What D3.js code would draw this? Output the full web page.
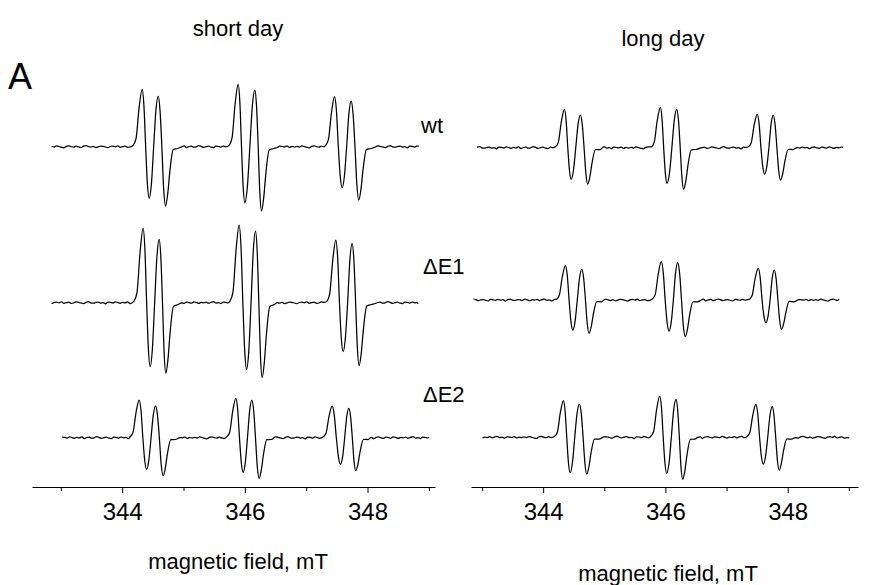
<!DOCTYPE html>
<html>
<head>
<meta charset="utf-8">
<script src="https://cdn.jsdelivr.net/npm/d3@7"></script>
<style>
  body { margin: 0; background: #fff; }
  svg text { font-family: "Liberation Sans", Arial, sans-serif; fill: #000; }
</style>
</head>
<body>
<div id="chart"></div>
<script>
// Panels and samples
const panelTitles = ["short day", "long day"];
const sampleNames = ["wt", "ΔE1", "ΔE2"];
const majorTicks = [344, 346, 348];
const minorTicks = [343, 345, 347, 349];

// Extrema of each spectrum, field in mT: [up, down, up, down] for the three line groups
const shortWtFields  = [344.326, 344.440, 344.587, 344.707, 345.891, 346.000, 346.163, 346.272, 347.462, 347.586, 347.733, 347.858];
const shortWtAmps    = [57.4, -51.6, 50.7, -59.3, 62.4, -56.0, 56.7, -64.3, 50.0, -41.0, 45.7, -53.3];
const shortE1Fields  = [344.342, 344.456, 344.603, 344.712, 345.907, 346.028, 346.174, 346.282, 347.483, 347.602, 347.749, 347.863];
const shortE1Amps    = [74.4, -64.0, 63.4, -70.6, 77.7, -66.6, 71.7, -75.0, 62.7, -49.0, 59.4, -63.0];
const shortE2Fields  = [344.277, 344.398, 344.544, 344.668, 345.853, 345.972, 346.114, 346.233, 347.423, 347.560, 347.695, 347.809];
const shortE2Amps    = [37.7, -31.6, 31.7, -38.0, 39.4, -34.6, 37.7, -40.6, 31.7, -26.6, 29.4, -33.0];
const longWtFields   = [344.348, 344.458, 344.609, 344.730, 345.917, 346.026, 346.185, 346.299, 347.502, 347.623, 347.763, 347.884];
const longWtAmps     = [38.4, -31.6, 32.7, -36.3, 40.4, -35.6, 38.4, -41.6, 33.4, -26.3, 32.7, -32.3];
const longE1Fields   = [344.364, 344.485, 344.632, 344.752, 345.933, 346.059, 346.201, 346.325, 347.518, 347.644, 347.780, 347.900];
const longE1Amps     = [34.3, -30.0, 30.7, -33.3, 38.3, -31.0, 37.3, -36.7, 31.7, -22.7, 30.0, -29.3];
const longE2Fields   = [344.332, 344.441, 344.593, 344.714, 345.907, 346.021, 346.173, 346.283, 347.480, 347.600, 347.747, 347.861];
const longE2Amps     = [36.6, -35.4, 33.3, -36.7, 41.3, -36.0, 38.0, -42.0, 33.0, -26.7, 30.6, -32.7];

// Recorded field span of each trace, mT
const shortSpans = [[342.849, 348.836], [342.849, 348.825], [343.022, 349.004]];
const longSpans  = [[342.917, 348.907], [342.861, 348.841], [343.008, 349.005]];

// Baseline noise (a.u.), reused with a different start per trace
const baselineNoise = [0.4,-0.3,0.8,0.2,-0.6,-1.1,0.3,0.9,0.1,-0.4,0.6,-0.2,-0.9,0.5,1.0,0.2,-0.5,0.3,-0.8,-0.2,
  0.7,0.4,-0.3,-1.0,0.2,0.6,-0.1,0.9,-0.6,0.1,0.5,-0.7,-0.3,0.8,0.3,-0.2,-0.9,0.4,1.1,-0.1,
  -0.5,0.2,0.7,-0.4,0.0,-1.2,0.5,0.3,-0.3,0.9,0.1,-0.6,0.4,-0.2,0.8,-0.8,0.2,0.6,-0.5,-0.1,
  1.0,0.3,-0.7,0.1,0.5,-0.4,-0.9,0.6,0.2,-0.3,0.7,-0.1,0.4,-1.0,0.3,0.8,-0.2,-0.6,0.5,0.1,
  -0.4,0.9,0.2,-0.7,0.3,-0.2,0.6,-0.5,0.4,1.0,-0.3,0.1,-0.8,0.5,0.2,-0.1,0.7,-0.6,0.3,-0.4];

const spectra = [
  [{f: shortWtFields, a: shortWtAmps}, {f: shortE1Fields, a: shortE1Amps}, {f: shortE2Fields, a: shortE2Amps}],
  [{f: longWtFields, a: longWtAmps}, {f: longE1Fields, a: longE1Amps}, {f: longE2Fields, a: longE2Amps}]
];
const spans = [shortSpans, longSpans];

// ---- layout ----
const W = 878, H = 585;
const svg = d3.select("#chart").append("svg").attr("width", W).attr("height", H);

const panelLayout = [
  {domain: [342.53, 349.10], range: [32, 435], axisY: 487, baselines: [146.7, 302.7, 437.7],
   title: [238, 36], xlab: [238, 569]},
  {domain: [342.82, 349.15], range: [471, 858], axisY: 487, baselines: [147.7, 300, 437.3],
   title: [663, 46], xlab: [668, 581]}
];

const line = d3.line().x(d => d.x).y(d => d.y).curve(d3.curveMonotoneX);
const noiseStep = 0.04;

// build the point list of one trace from its extrema and baseline noise
function tracePoints(spec, span, noiseStart) {
  const pts = [];
  const groups = [0, 1, 2].map(g => ({
    f: spec.f.slice(g * 4, g * 4 + 4),
    a: spec.a.slice(g * 4, g * 4 + 4)
  }));
  groups.forEach(g => {
    const [f0, f1, f2, f3] = g.f, [a0, a1, a2, a3] = g.a;
    const m01 = (f0 + f1) / 2, m12 = (f1 + f2) / 2, m23 = (f2 + f3) / 2;
    pts.push(
      [f0 - 0.15, a0 * 0.02], [f0 - 0.1, a0 * 0.14], [f0 - 0.05, a0 * 0.68], [f0, a0],
      [(f0 + m01) / 2, a0 * 0.72], [m01, 0], [(m01 + f1) / 2, a1 * 0.72], [f1, a1],
      [(f1 + m12) / 2, a1 * 0.72], [m12, 0], [(m12 + f2) / 2, a2 * 0.72], [f2, a2],
      [(f2 + m23) / 2, a2 * 0.72], [m23, 0], [(m23 + f3) / 2, a3 * 0.72], [f3, a3],
      [f3 + 0.035, a3 * 0.8], [f3 + 0.07, a3 * 0.42], [f3 + 0.125, a3 * 0.05],
      [f3 + 0.2, -1.8]);
  });
  const inGroup = x => groups.some(g => x > g.f[0] - 0.17 && x < g.f[3] + 0.24);
  d3.range(span[0], span[1] + 1e-6, noiseStep).forEach((x, i) => {
    if (!inGroup(x)) pts.push([x, baselineNoise[(i + noiseStart) % baselineNoise.length]]);
  });
  pts.push([span[1], baselineNoise[noiseStart % baselineNoise.length]]);
  return pts.sort((p, q) => p[0] - q[0]);
}

panelLayout.forEach((P, pi) => {
  const x = d3.scaleLinear().domain(P.domain).range(P.range);
  const g = svg.append("g");

  // traces
  sampleNames.forEach((name, si) => {
    const base = P.baselines[si];
    const y = d3.scaleLinear().domain([-100, 100]).range([base + 100, base - 100]);
    const pts = tracePoints(spectra[pi][si], spans[pi][si], pi * 37 + si * 23);
    g.append("path")
      .attr("d", line(pts.map(p => ({x: x(p[0]), y: y(p[1])}))))
      .attr("fill", "none")
      .attr("stroke", "#000")
      .attr("stroke-width", 1.25)
      .attr("stroke-linejoin", "round");
  });

  // axis with major and minor ticks
  const major = d3.axisBottom(x).tickValues(majorTicks).tickFormat(d3.format("d"))
    .tickSize(6).tickSizeOuter(0).tickPadding(10);
  const minor = d3.axisBottom(x).tickValues(minorTicks).tickFormat("")
    .tickSize(4).tickSizeOuter(0);
  const ax = g.append("g").attr("transform", `translate(0,${P.axisY})`).call(major);
  g.append("g").attr("transform", `translate(0,${P.axisY})`).call(minor)
    .select(".domain").remove();
  ax.selectAll("path, line").attr("stroke", "#000").attr("stroke-width", 1);
  g.selectAll(".tick line").attr("stroke", "#000");
  ax.selectAll("text").style("font-size", "24px").attr("fill", "#000")
    .style("font-family", "'Liberation Sans', Arial, sans-serif");

  // titles
  g.append("text").attr("x", P.title[0]).attr("y", P.title[1])
    .attr("text-anchor", "middle").style("font-size", "22px").text(panelTitles[pi]);
  g.append("text").attr("x", P.xlab[0]).attr("y", P.xlab[1])
    .attr("text-anchor", "middle").style("font-size", "22px").text("magnetic field, mT");
});

// sample labels between the panels
const labelPos = [[421, 133], [423, 274], [423, 402]];
sampleNames.forEach((name, i) => {
  svg.append("text").attr("x", labelPos[i][0]).attr("y", labelPos[i][1])
    .style("font-size", "22px").text(name);
});

// panel letter
svg.append("text").attr("x", 8).attr("y", 89).style("font-size", "36px").text("A");
</script>
</body>
</html>
